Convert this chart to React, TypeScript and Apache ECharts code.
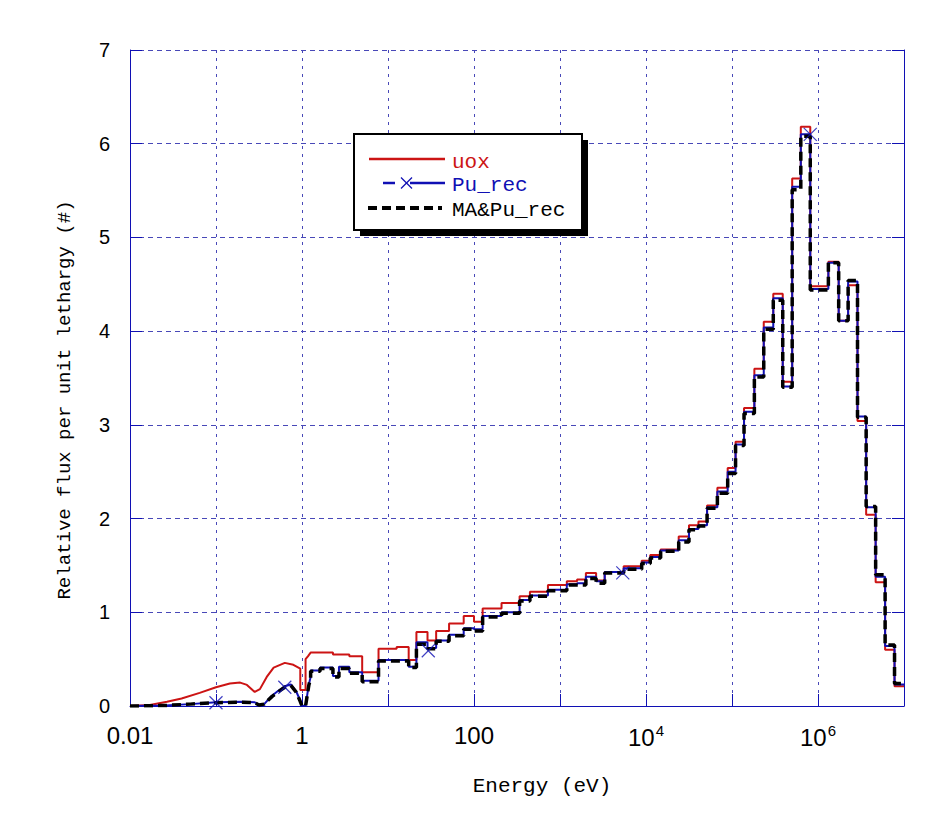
import React, { useEffect, useRef } from 'react';
import * as echarts from 'echarts';

// Bin edges (eV) of the multigroup histogram above ~1 eV
const binEdges = [
  1.26, 1.62, 2.29, 2.69, 3.55, 5.01, 7.76, 12.6, 17.4, 21.4, 28.8, 36.3, 51.3, 75.9, 100, 126, 209, 339, 447, 724,
  1200, 1580, 2000, 2630, 3310, 5500, 8910, 11200, 14800, 24000, 31600, 40700, 51300, 67600, 89100,
  110000, 138000, 182000, 234000, 302000, 389000, 501000, 631000, 813000, 1320000, 1740000, 2240000,
  2880000, 3630000, 4680000, 6030000, 7760000, 10000000,
];

// Group values (relative flux per unit lethargy)
const uoxBins = [
  0.57, 0.57, 0.55, 0.55, 0.53, 0.36, 0.61, 0.63, 0.49, 0.79, 0.70, 0.80, 0.88, 0.96, 0.90, 1.04, 1.10, 1.17, 1.22, 1.29,
  1.33, 1.35, 1.42, 1.34, 1.43, 1.49, 1.55, 1.61, 1.67, 1.81, 1.93, 1.97, 2.14, 2.33, 2.54,
  2.82, 3.18, 3.60, 4.10, 4.40, 3.46, 5.63, 6.18, 4.48, 4.74, 4.11, 4.49, 3.04, 2.04, 1.32, 0.60, 0.21,
];
const puBins = [
  0.38, 0.41, 0.32, 0.42, 0.36, 0.27, 0.49, 0.49, 0.42, 0.68, 0.62, 0.70, 0.76, 0.83, 0.82, 0.96, 1.00, 1.13, 1.18, 1.24,
  1.30, 1.31, 1.38, 1.33, 1.43, 1.47, 1.53, 1.59, 1.66, 1.77, 1.89, 1.93, 2.12, 2.29, 2.50,
  2.79, 3.14, 3.53, 4.04, 4.35, 3.41, 5.54, 6.10, 4.45, 4.73, 4.11, 4.53, 3.09, 2.12, 1.38, 0.64, 0.23,
];
const maBins = [
  0.37, 0.40, 0.31, 0.40, 0.35, 0.26, 0.48, 0.48, 0.41, 0.66, 0.61, 0.69, 0.75, 0.82, 0.80, 0.95, 0.99, 1.12, 1.17, 1.23,
  1.29, 1.29, 1.36, 1.31, 1.42, 1.46, 1.52, 1.58, 1.65, 1.75, 1.88, 1.92, 2.11, 2.27, 2.48,
  2.78, 3.12, 3.51, 4.02, 4.33, 3.40, 5.51, 6.08, 4.44, 4.73, 4.11, 4.54, 3.08, 2.13, 1.40, 0.65, 0.24,
];

// Thermal region (below ~1.26 eV), read as points
const uoxThermalE = [0.01, 0.017, 0.0269, 0.0398, 0.0646, 0.1, 0.145, 0.191, 0.229, 0.282, 0.324, 0.389, 0.468, 0.631, 0.794, 0.955, 0.955, 1.10, 1.10, 1.17];
const uoxThermalV = [0, 0.01, 0.045, 0.08, 0.14, 0.20, 0.24, 0.25, 0.225, 0.15, 0.18, 0.31, 0.41, 0.46, 0.44, 0.40, 0.17, 0.17, 0.50, 0.53];
const puThermalE = [0.01, 0.0251, 0.0501, 0.1, 0.2, 0.282, 0.316, 0.363, 0.447, 0.525, 0.631, 0.741, 0.851, 0.933, 1.0, 1.10, 1.20, 1.26];
const puThermalV = [0, 0.005, 0.02, 0.04, 0.045, 0.04, 0.01, 0.02, 0.11, 0.16, 0.21, 0.23, 0.16, 0.08, 0, 0, 0.23, 0.31];
const maThermalE = [0.01, 0.0251, 0.0501, 0.1, 0.2, 0.282, 0.316, 0.363, 0.447, 0.525, 0.631, 0.741, 0.851, 0.933, 1.0, 1.10, 1.20, 1.26];
const maThermalV = [0, 0.005, 0.02, 0.035, 0.04, 0.035, 0.01, 0.02, 0.10, 0.15, 0.20, 0.22, 0.15, 0.07, 0, 0, 0.22, 0.30];

// Marker (×) positions on the Pu_rec curve
const puMarkE = [0.1, 0.631, 29.4, 5370, 813000];
const puMarkV = [0.035, 0.2, 0.59, 1.42, 6.1];

// Tick labels
const xTickExps = [-2, 0, 2, 4, 6];
const xTickTexts = ['0.01', '1', '100', '10{sup|4}', '10{sup|6}'];
const yTicks = [0, 1, 2, 3, 4, 5, 6, 7];

const seriesNames = ['uox', 'Pu_rec', 'MA&Pu_rec'];
const xTitle = 'Energy (eV)';
const yTitle = 'Relative flux per unit lethargy (#)';

const RED = '#cc1414';
const BLUE = '#1010b4';
const GRID = '#4848b8';
const MONO = "'Courier New', 'Liberation Mono', monospace";
const SANS = "'Liberation Sans', Arial, sans-serif";

function build(thE: number[], thV: number[], bins: number[]) {
  const pts: number[][] = thE.map((e, i) => [e, thV[i]]);
  for (let i = 0; i < bins.length; i++) {
    pts.push([binEdges[i], bins[i]]);
    pts.push([binEdges[i + 1], bins[i]]);
  }
  return pts;
}

export default function App() {
  const ref = useRef<HTMLDivElement>(null);
  useEffect(() => {
    if (!ref.current) return;
    const chart = echarts.init(ref.current, null, { renderer: 'svg' });
    const cross = 'path://M0,0L10,10M10,0L0,10';
    const option: any = {
      animation: false,
      backgroundColor: '#fff',
      grid: { left: 130, top: 50, right: 44, bottom: 129 },
      xAxis: {
        type: 'log',
        logBase: 10,
        min: 0.01,
        max: 1e7,
        axisLine: { show: true, lineStyle: { color: BLUE, width: 1 } },
        axisTick: { show: true, inside: true, length: 12, lineStyle: { color: BLUE } },
        axisLabel: {
          margin: 17,
          fontFamily: SANS,
          fontSize: 24,
          color: '#000',
          formatter: (v: number) => {
            const e = Math.round(Math.log10(v));
            const i = xTickExps.indexOf(e);
            return i >= 0 ? xTickTexts[i] : '';
          },
          rich: {
            sup: { fontFamily: SANS, fontSize: 15, color: '#000', verticalAlign: 'top', padding: [0, 0, 14, 1] },
          },
        },
        splitLine: { show: true, lineStyle: { color: GRID, type: [3, 5], width: 1 } },
      },
      yAxis: [
        {
          type: 'value',
          min: yTicks[0],
          max: yTicks[yTicks.length - 1],
          interval: 1,
          axisLine: { show: true, lineStyle: { color: BLUE, width: 1 } },
          axisTick: { show: true, inside: true, length: 12, lineStyle: { color: BLUE } },
          axisLabel: { margin: 20, fontFamily: SANS, fontSize: 20, color: '#000' },
          splitLine: { show: true, lineStyle: { color: GRID, type: [5, 4], width: 1 } },
        },
        {
          type: 'value',
          position: 'right',
          min: yTicks[0],
          max: yTicks[yTicks.length - 1],
          interval: 1,
          axisLine: { show: true, lineStyle: { color: BLUE, width: 1 } },
          axisTick: { show: true, inside: true, length: 12, lineStyle: { color: BLUE } },
          axisLabel: { show: false },
          splitLine: { show: false },
        },
      ],
      series: [
        {
          name: seriesNames[0],
          type: 'line',
          data: build(uoxThermalE, uoxThermalV, uoxBins),
          showSymbol: false,
          symbol: 'none',
          lineStyle: { color: RED, width: 2 },
          z: 2,
        },
        {
          name: seriesNames[1],
          type: 'line',
          data: build(puThermalE, puThermalV, puBins),
          showSymbol: false,
          symbol: 'none',
          lineStyle: { color: BLUE, width: 2 },
          z: 3,
        },
        {
          name: seriesNames[2],
          type: 'line',
          data: build(maThermalE, maThermalV, maBins),
          showSymbol: false,
          symbol: 'none',
          lineStyle: { color: '#000', width: 3.5, type: [9, 5] },
          z: 4,
        },
        {
          name: 'markers',
          type: 'scatter',
          data: puMarkE.map((e, i) => [e, puMarkV[i]]),
          symbol: cross,
          symbolSize: 13,
          itemStyle: { color: 'transparent', borderColor: BLUE, borderWidth: 1.2 },
          z: 5,
        },
      ],
      graphic: [
        { type: 'text', x: 542, y: 786, style: { text: xTitle, fill: '#000', font: `21px ${MONO}`, align: 'center', verticalAlign: 'middle' }, z: 12 },
        { type: 'text', x: 65, y: 400, rotation: Math.PI / 2, style: { text: yTitle, fill: '#000', font: `19px ${MONO}`, align: 'center', verticalAlign: 'middle' }, z: 12 },
        { type: 'rect', shape: { x: 360, y: 140, width: 228, height: 96 }, style: { fill: '#000' }, z: 10 },
        { type: 'rect', shape: { x: 354, y: 134, width: 228, height: 96 }, style: { fill: '#fff', stroke: '#000', lineWidth: 2 }, z: 11 },
        { type: 'line', shape: { x1: 369, y1: 159, x2: 445, y2: 159 }, style: { stroke: RED, lineWidth: 2.5 }, z: 12 },
        { type: 'text', x: 452, y: 162, style: { text: seriesNames[0], fill: RED, font: `21px ${MONO}`, verticalAlign: 'middle' }, z: 12 },
        { type: 'line', shape: { x1: 383, y1: 183, x2: 395, y2: 183 }, style: { stroke: BLUE, lineWidth: 2.5 }, z: 12 },
        { type: 'line', shape: { x1: 401, y1: 177.5, x2: 412, y2: 188.5 }, style: { stroke: BLUE, lineWidth: 1.2 }, z: 12 },
        { type: 'line', shape: { x1: 412, y1: 177.5, x2: 401, y2: 188.5 }, style: { stroke: BLUE, lineWidth: 1.2 }, z: 12 },
        { type: 'line', shape: { x1: 410, y1: 183, x2: 445, y2: 183 }, style: { stroke: BLUE, lineWidth: 2.5 }, z: 12 },
        { type: 'text', x: 452, y: 185, style: { text: seriesNames[1], fill: BLUE, font: `21px ${MONO}`, verticalAlign: 'middle' }, z: 12 },
        { type: 'line', shape: { x1: 368, y1: 208, x2: 442, y2: 208 }, style: { stroke: '#000', lineWidth: 4, lineDash: [9, 5] }, z: 12 },
        { type: 'text', x: 452, y: 210, style: { text: seriesNames[2], fill: '#000', font: `21px ${MONO}`, verticalAlign: 'middle' }, z: 12 },
      ],
    };
    chart.setOption(option);
    return () => chart.dispose();
  }, []);
  return (
    <div
      ref={ref}
      style={{ position: 'absolute', left: 0, top: 0, width: 948, height: 835, background: '#fff' }}
    />
  );
}
